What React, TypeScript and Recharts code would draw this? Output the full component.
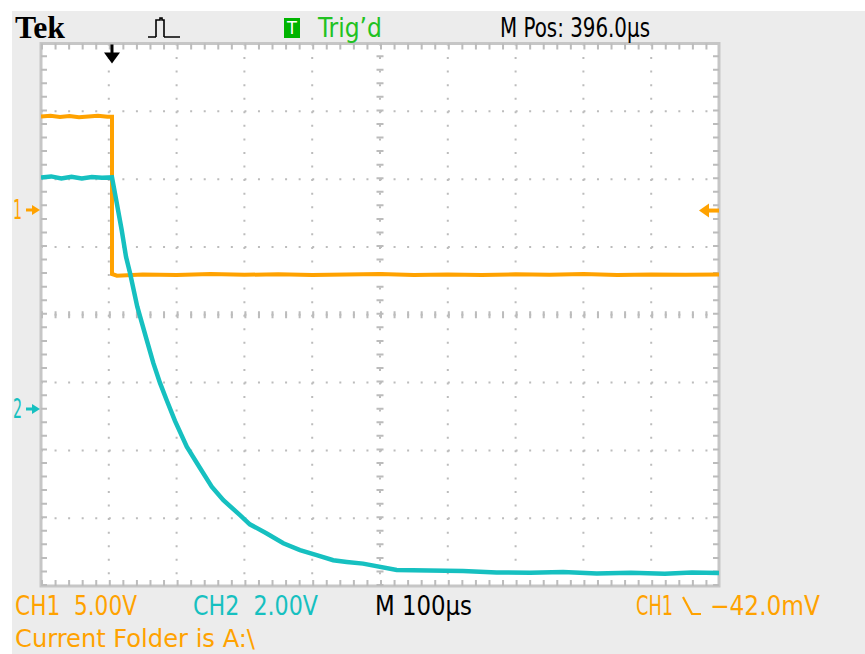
import React from "react";
import { CartesianGrid, Line, LineChart, ReferenceArea, ReferenceLine, XAxis, YAxis } from "recharts";

// time base: 100 us/div, 10 divisions
const timeTicks = [100, 200, 300, 400, 500, 600, 700, 800, 900];
const divTicks = [-3, -2, -1, 0, 1, 2, 3];

// CH1 (orange) 5.00 V/div, ground marker 1.545 div above centre
const CH1_VOLTS_PER_DIV = 5;
const CH1_GROUND_DIV = 1.545;
// CH2 (cyan) 2.00 V/div, ground marker 1.39 div below centre
const CH2_VOLTS_PER_DIV = 2;
const CH2_GROUND_DIV = -1.39;

const TRIGGER_TIME = 104.7;
const TRIGGER_LEVEL = -0.042;

const ch1Time = [0, 14, 28, 42, 56, 70, 84, 98, 104.7, 104.7, 112, 150, 200, 250, 300, 350, 400, 450, 500, 550, 600, 650, 700, 750, 800, 850, 900, 950, 1000];
const ch1Volts = [6.9, 6.95, 6.86, 6.92, 6.84, 6.9, 6.95, 6.88, 6.88, -4.72, -4.85, -4.76, -4.8, -4.72, -4.78, -4.74, -4.8, -4.76, -4.72, -4.79, -4.75, -4.8, -4.74, -4.77, -4.72, -4.79, -4.75, -4.78, -4.76];

const ch2Time = [0, 15, 30, 45, 60, 75, 90, 104.7, 111.7, 119, 125.4, 131.3, 142, 156, 165.6, 175.5, 185.4, 197.6, 215, 234.5, 251.8, 269, 293.5, 308, 333, 357.4, 382, 406.6, 431, 451, 475, 524.6, 572, 622.4, 672, 721.2, 770, 819.6, 870, 920, 960, 1000];
const ch2Volts = [6.83, 6.86, 6.8, 6.85, 6.8, 6.84, 6.82, 6.83, 6.08, 5.28, 4.49, 4.01, 3.02, 2.03, 1.36, 0.77, 0.26, -0.35, -1.11, -1.74, -2.29, -2.69, -3.13, -3.4, -3.67, -3.96, -4.16, -4.31, -4.46, -4.51, -4.56, -4.75, -4.76, -4.78, -4.82, -4.83, -4.81, -4.85, -4.83, -4.86, -4.82, -4.84];

const ch1Data = ch1Time.map((t, i) => ({ t, v: ch1Volts[i] }));
const ch2Data = ch2Time.map((t, i) => ({ t, v: ch2Volts[i] }));

const ch1Domain = [(-4 - CH1_GROUND_DIV) * CH1_VOLTS_PER_DIV, (4 - CH1_GROUND_DIV) * CH1_VOLTS_PER_DIV];
const ch2Domain = [(-4 - CH2_GROUND_DIV) * CH2_VOLTS_PER_DIV, (4 - CH2_GROUND_DIV) * CH2_VOLTS_PER_DIV];

const ORANGE = "#ffa200";
const CYAN = "#16c0c0";
const GRID = "#bcbcbc";
const BORDER = "#c6c6c6";
const DOTS = "2 11.56";
const SCOPE_FONT = "'DejaVu Sans Condensed', 'Liberation Sans Narrow', 'DejaVu Sans', sans-serif";
const TXT = 27;

// border tick offsets (about 3px inward), in axis units
const EDGE_DIV = 3 / 67.8;
const EDGE_US = 3 / 0.678;

function GroundMarker(props: any) {
  const { viewBox, text, color } = props;
  if (!viewBox) return null;
  const x = viewBox.x;
  const y = viewBox.y;
  return (
    <g>
      <text x={x - 28} y={y + 9} fill={color} fontSize={TXT} fontFamily={SCOPE_FONT} textLength={9} lengthAdjust="spacingAndGlyphs">
        {text}
      </text>
      <path d={`M${x - 15},${y} H${x - 7}`} stroke={color} strokeWidth={3} />
      <path d={`M${x - 1},${y} L${x - 9},${y - 5} L${x - 9},${y + 5} Z`} fill={color} />
    </g>
  );
}

function LevelMarker(props: any) {
  const { viewBox, color } = props;
  if (!viewBox) return null;
  const r = viewBox.x + viewBox.width;
  const y = viewBox.y;
  return (
    <g>
      <path d={`M${r - 12},${y} H${r}`} stroke={color} strokeWidth={4} />
      <path d={`M${r - 20},${y} L${r - 10},${y - 7} L${r - 10},${y + 7} Z`} fill={color} />
    </g>
  );
}

function TriggerMarker(props: any) {
  const { viewBox } = props;
  if (!viewBox) return null;
  const x = viewBox.x;
  const top = viewBox.y;
  return (
    <g>
      <rect x={x - 1.5} y={top + 1} width={3} height={12} fill="#000" />
      <path d={`M${x - 8},${top + 9} L${x + 8},${top + 9} L${x},${top + 20} Z`} fill="#000" />
    </g>
  );
}

function Overlay() {
  return (
    <svg width={865} height={654} style={{ position: "absolute", left: 0, top: 0, pointerEvents: "none" }}>
      <text x={15} y={38} fontSize={31} fontWeight="bold" fontFamily="'Liberation Serif', serif" textLength={50} lengthAdjust="spacingAndGlyphs">
        Tek
      </text>
      <path d="M148,37 H156 M156,37 V20 H160 V18 H162 V20 H164 V37 M164,37 H180" stroke="#000" strokeWidth={1.6} fill="none" />
      <rect x={284} y={18} width={16} height={20} fill="#00b400" />
      <text x={292} y={34} fontSize={18} fill="#fff" textAnchor="middle" fontFamily={SCOPE_FONT}>
        T
      </text>
      <text x={318} y={37} fontSize={TXT} fill="#22c222" fontFamily={SCOPE_FONT} textLength={64} lengthAdjust="spacingAndGlyphs">
        Trig’d
      </text>
      <text x={500} y={37} fontSize={TXT} fill="#000" fontFamily={SCOPE_FONT} textLength={150} lengthAdjust="spacingAndGlyphs">
        M Pos: 396.0µs
      </text>

      <text x={15} y={615} fontSize={TXT} fill={ORANGE} fontFamily={SCOPE_FONT} textLength={122} lengthAdjust="spacingAndGlyphs" xmlSpace="preserve">
        CH1  5.00V
      </text>
      <text x={193} y={615} fontSize={TXT} fill={CYAN} fontFamily={SCOPE_FONT} textLength={125} lengthAdjust="spacingAndGlyphs" xmlSpace="preserve">
        CH2  2.00V
      </text>
      <text x={375} y={615} fontSize={TXT} fill="#000" fontFamily={SCOPE_FONT} textLength={97} lengthAdjust="spacingAndGlyphs">
        M 100µs
      </text>
      <text x={636} y={615} fontSize={TXT} fill={ORANGE} fontFamily={SCOPE_FONT} textLength={37} lengthAdjust="spacingAndGlyphs">
        CH1
      </text>
      <path d="M683,597 L692,614 H701" stroke={ORANGE} strokeWidth={2.2} fill="none" />
      <text x={710} y={615} fontSize={TXT} fill={ORANGE} fontFamily={SCOPE_FONT} textLength={110} lengthAdjust="spacingAndGlyphs">
        −42.0mV
      </text>
      <text x={15} y={647} fontSize={25} fill={ORANGE} fontFamily={SCOPE_FONT} textLength={240} lengthAdjust="spacingAndGlyphs">
        Current Folder is A:\
      </text>
    </svg>
  );
}

export default function App() {
  return (
    <div style={{ position: "absolute", left: 0, top: 0, width: 865, height: 654, background: "#fff", overflow: "hidden" }}>
      <div style={{ position: "absolute", left: 12, top: 11, width: 853, height: 643, background: "#ececec" }} />
      <div style={{ position: "absolute", left: 0, top: 0 }}>
        <LineChart width={865} height={654} margin={{ top: 43.5, right: 146, bottom: 68, left: 41 }}>
          <XAxis type="number" dataKey="t" domain={[0, 1000]} ticks={timeTicks} hide allowDataOverflow />
          <YAxis yAxisId={0} type="number" domain={[-4, 4]} ticks={divTicks} hide allowDataOverflow />
          <YAxis yAxisId="ch1" type="number" domain={ch1Domain} hide allowDataOverflow />
          <YAxis yAxisId="ch2" type="number" domain={ch2Domain} hide allowDataOverflow />
          <CartesianGrid fill="#ffffff" stroke={GRID} strokeWidth={2} strokeDasharray={DOTS} />

          {/* centre cross tick marks */}
          <ReferenceLine y={0} stroke={GRID} strokeWidth={7} strokeDasharray={DOTS} />
          <ReferenceLine x={500} stroke={GRID} strokeWidth={7} strokeDasharray={DOTS} />
          {/* border tick marks */}
          <ReferenceLine y={4 - EDGE_DIV} stroke={GRID} strokeWidth={6} strokeDasharray={DOTS} />
          <ReferenceLine y={-4 + EDGE_DIV} stroke={GRID} strokeWidth={6} strokeDasharray={DOTS} />
          <ReferenceLine x={EDGE_US} stroke={GRID} strokeWidth={6} strokeDasharray={DOTS} />
          <ReferenceLine x={1000 - EDGE_US} stroke={GRID} strokeWidth={6} strokeDasharray={DOTS} />
          <ReferenceArea x1={0} x2={1000} y1={-4} y2={4} fill="none" stroke={BORDER} strokeWidth={3} />

          <ReferenceLine yAxisId="ch1" y={0} stroke="none" label={<GroundMarker text="1" color={ORANGE} />} />
          <ReferenceLine yAxisId="ch2" y={0} stroke="none" label={<GroundMarker text="2" color={CYAN} />} />
          <ReferenceLine yAxisId="ch1" y={TRIGGER_LEVEL} stroke="none" label={<LevelMarker color={ORANGE} />} />
          <ReferenceLine x={TRIGGER_TIME} stroke="none" label={<TriggerMarker />} />

          <Line yAxisId="ch1" data={ch1Data} dataKey="v" type="linear" stroke={ORANGE} strokeWidth={4} dot={false} isAnimationActive={false} />
          <Line yAxisId="ch2" data={ch2Data} dataKey="v" type="linear" stroke={CYAN} strokeWidth={4.5} dot={false} isAnimationActive={false} />
        </LineChart>
      </div>
      <Overlay />
    </div>
  );
}
